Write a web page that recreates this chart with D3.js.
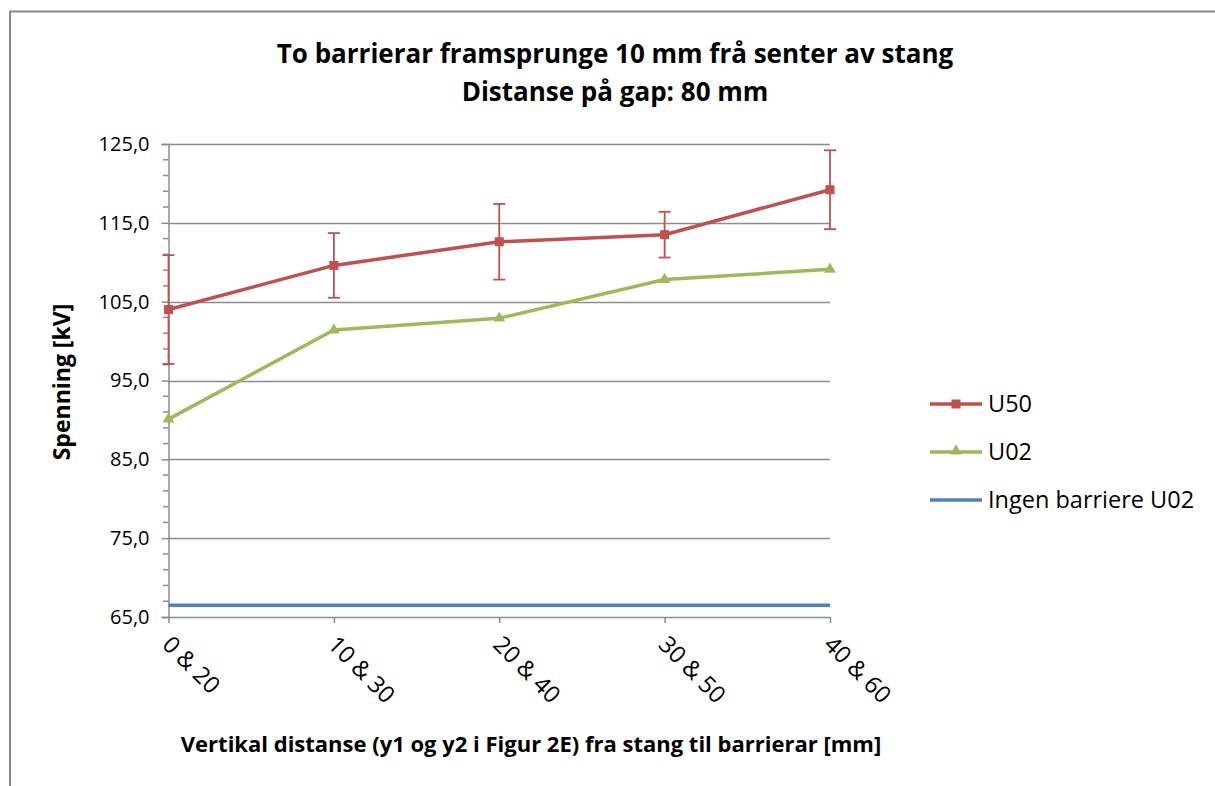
<!DOCTYPE html>
<html>
<head>
<meta charset="utf-8">
<script src="https://cdn.jsdelivr.net/npm/d3@7"></script>
<style>
  html, body { margin: 0; padding: 0; background: #fff; }
  svg { display: block; }
  text { font-family: "Open Sans", sans-serif; fill: #000; }
</style>
</head>
<body>
<script>
// Categories: vertical distances y1 & y2
const categories = ["0 & 20", "10 & 30", "20 & 40", "30 & 50", "40 & 60"];
// Breakdown voltages in kV
const u50 = [104.0, 109.6, 112.6, 113.5, 119.2];
const u50Err = [6.9, 4.1, 4.8, 2.9, 5.0];
const u02 = [90.1, 101.4, 102.9, 107.8, 109.1];
const noBarrierU02 = [66.5, 66.5, 66.5, 66.5, 66.5];
const yTicks = [65, 75, 85, 95, 105, 115, 125];

const W = 1215, H = 786;
const FONT = "'Open Sans', sans-serif";
const svg = d3.select("body").append("svg").attr("width", W).attr("height", H);

// outer chart frame
svg.append("rect").attr("x", 10).attr("y", 11.5).attr("width", W + 20).attr("height", H + 20)
  .attr("fill", "#fff").attr("stroke", "#868686").attr("stroke-width", 2);

const x = d3.scalePoint().domain(categories).range([168.5, 830]).padding(0);
const y = d3.scaleLinear().domain([65, 125]).range([617, 144]);

// horizontal gridlines
svg.append("g").selectAll("line").data(yTicks.slice(1)).join("line")
  .attr("x1", 168.5).attr("x2", 830)
  .attr("y1", d => Math.round(y(d)) + 0.5).attr("y2", d => Math.round(y(d)) + 0.5)
  .attr("stroke", "#8c8c8c").attr("stroke-width", 1.5);

// y axis: major + minor ticks
const fmt = d => d.toFixed(1).replace(".", ",");
const yAxis = d3.axisLeft(y).tickValues(yTicks).tickFormat(fmt).tickSize(7).tickPadding(12);
const gy = svg.append("g").attr("transform", "translate(168.5,0)").call(yAxis);
gy.select(".domain").attr("stroke", "#8c8c8c").attr("stroke-width", 1.5);
gy.selectAll(".tick line").attr("stroke", "#8c8c8c").attr("stroke-width", 1.5);
gy.selectAll(".tick text").attr("font-size", 20).attr("font-family", FONT).attr("fill", "#000");
const minor = d3.range(65, 125.01, 2).filter(v => !yTicks.includes(v));
svg.append("g").selectAll("line").data(minor).join("line")
  .attr("x1", 163).attr("x2", 168.5)
  .attr("y1", d => y(d)).attr("y2", d => y(d))
  .attr("stroke", "#8c8c8c").attr("stroke-width", 1.5);

// x axis
const xAxis = d3.axisBottom(x).tickSize(6).tickFormat(d => d);
const gx = svg.append("g").attr("transform", "translate(0,617)").call(xAxis);
gx.select(".domain").attr("d", "M168.5,0.5H830").attr("stroke", "#8c8c8c").attr("stroke-width", 1.5);
gx.selectAll(".tick line").attr("stroke", "#8c8c8c").attr("stroke-width", 1.5);
gx.selectAll(".tick text")
  .attr("font-size", 23.5).attr("font-family", FONT).attr("fill", "#000")
  .attr("text-anchor", "start").attr("dy", 0).attr("y", 0)
  .attr("transform", "translate(-8,29) rotate(45)");

const line = d3.line().x((d, i) => x(categories[i])).y(d => y(d));

// no-barrier reference line
svg.append("path").datum(noBarrierU02).attr("d", line)
  .attr("fill", "none").attr("stroke", "#4F81BD").attr("stroke-width", 3.5);

// U02 series
svg.append("path").datum(u02).attr("d", line)
  .attr("fill", "none").attr("stroke", "#9BBB59").attr("stroke-width", 3.5);
const tri = d3.symbol().type(d3.symbolTriangle).size(60);
svg.append("g").selectAll("path").data(u02).join("path")
  .attr("d", tri)
  .attr("transform", (d, i) => `translate(${x(categories[i])},${y(d)})`)
  .attr("fill", "#9BBB59");

// U50 series with error bars
const eb = svg.append("g").attr("stroke", "#C0504D").attr("stroke-width", 1.8);
u50.forEach((v, i) => {
  const cx = x(categories[i]);
  eb.append("line").attr("x1", cx).attr("x2", cx).attr("y1", y(v + u50Err[i])).attr("y2", y(v - u50Err[i]));
  eb.append("line").attr("x1", cx - 6).attr("x2", cx + 6).attr("y1", y(v + u50Err[i])).attr("y2", y(v + u50Err[i]));
  eb.append("line").attr("x1", cx - 6).attr("x2", cx + 6).attr("y1", y(v - u50Err[i])).attr("y2", y(v - u50Err[i]));
});
svg.append("path").datum(u50).attr("d", line)
  .attr("fill", "none").attr("stroke", "#C0504D").attr("stroke-width", 3.5);
svg.append("g").selectAll("rect").data(u50).join("rect")
  .attr("x", (d, i) => x(categories[i]) - 4.5).attr("y", d => y(d) - 4.5)
  .attr("width", 9).attr("height", 9).attr("fill", "#C0504D");

// titles
svg.append("text").attr("x", 615).attr("y", 63).attr("text-anchor", "middle")
  .attr("font-size", 26).attr("font-weight", "bold").text("To barrierar framsprunge 10 mm frå senter av stang");
svg.append("text").attr("x", 615).attr("y", 101).attr("text-anchor", "middle")
  .attr("font-size", 26).attr("font-weight", "bold").text("Distanse på gap: 80 mm");
svg.append("text").attr("transform", "translate(70,382) rotate(-90)").attr("text-anchor", "middle")
  .attr("font-size", 23).attr("font-weight", "bold").text("Spenning [kV]");
svg.append("text").attr("x", 531).attr("y", 752).attr("text-anchor", "middle")
  .attr("font-size", 22).attr("font-weight", "bold").text("Vertikal distanse (y1 og y2 i Figur 2E) fra stang til barrierar [mm]");

// legend
const legend = [
  { name: "U50", color: "#C0504D", marker: "square" },
  { name: "U02", color: "#9BBB59", marker: "triangle" },
  { name: "Ingen barriere U02", color: "#4F81BD", marker: null }
];
const lg = svg.append("g").selectAll("g").data(legend).join("g")
  .attr("transform", (d, i) => `translate(930,${404 + i * 48})`);
lg.append("line").attr("x1", 0).attr("x2", 52).attr("stroke", d => d.color).attr("stroke-width", 3.5);
lg.filter(d => d.marker === "square").append("rect")
  .attr("x", -4.5 + 26).attr("y", -4.5).attr("width", 9).attr("height", 9).attr("fill", d => d.color);
lg.filter(d => d.marker === "triangle").append("path")
  .attr("d", tri).attr("transform", "translate(26,-1)").attr("fill", d => d.color);
lg.append("text").attr("x", 58).attr("y", 8).attr("font-size", 23.5).text(d => d.name);
</script>
</body>
</html>
